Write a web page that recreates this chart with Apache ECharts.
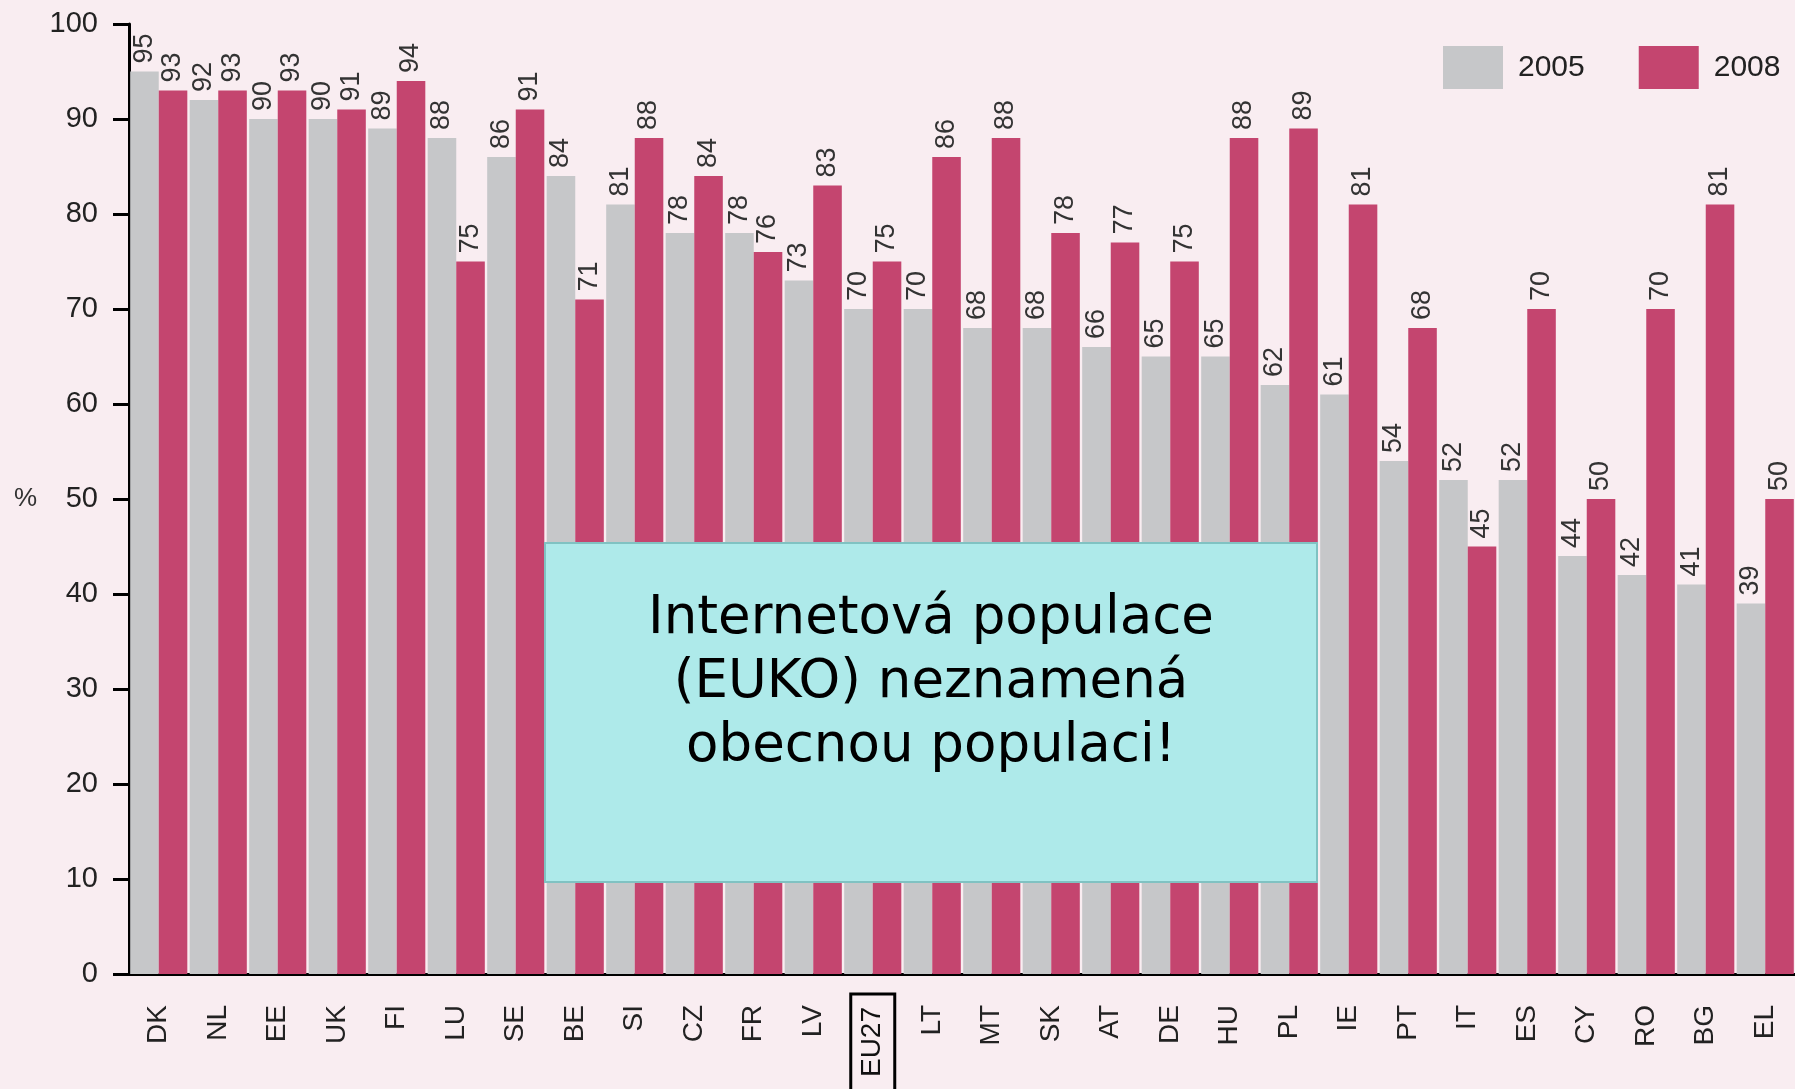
<!DOCTYPE html>
<html>
<head>
<meta charset="utf-8">
<title>Internetová populace</title>
<script src="https://cdn.jsdelivr.net/npm/echarts@6/dist/echarts.min.js"></script>
<style>
	html, body { margin: 0; padding: 0; background: #f9edf1; }
	#chart { width: 1795px; height: 1089px; }
</style>
</head>
<body>
<div id="chart"></div>
<script>
	// data
	var countries = ['DK', 'NL', 'EE', 'UK', 'FI', 'LU', 'SE', 'BE', 'SI', 'CZ', 'FR', 'LV', 'EU27', 'LT',
		'MT', 'SK', 'AT', 'DE', 'HU', 'PL', 'IE', 'PT', 'IT', 'ES', 'CY', 'RO', 'BG', 'EL'];
	var values2005 = [95, 92, 90, 90, 89, 88, 86, 84, 81, 78, 78, 73, 70, 70,
		68, 68, 66, 65, 65, 62, 61, 54, 52, 52, 44, 42, 41, 39];
	var values2008 = [93, 93, 93, 91, 94, 75, 91, 71, 88, 84, 76, 83, 75, 86,
		88, 78, 77, 75, 88, 89, 81, 68, 45, 70, 50, 70, 81, 50];
	var yTicks = [0, 10, 20, 30, 40, 50, 60, 70, 80, 90, 100];

	var myChart = echarts.init(document.getElementById('chart'));

	var valueLabel = {
		show: true,
		position: 'top',
		rotate: 90,
		align: 'left',
		verticalAlign: 'middle',
		distance: 8,
		color: '#333',
		fontFamily: 'Liberation Sans',
		fontSize: 27
	};

	var option = {
		backgroundColor: '#f9edf1',
		animation: false,
		legend: {
			orient: 'horizontal',
			left: 1438,
			top: 41,
			width: 500,
			itemWidth: 60,
			itemHeight: 43,
			itemGap: 54,
			icon: 'rect',
			textStyle: {
				color: '#222',
				fontFamily: 'Liberation Sans',
				fontSize: 30,
				padding: [0, 0, 0, 10]
			},
			data: ['2005', '2008']
		},
		grid: {
			left: 129,
			right: 0,
			top: 24,
			bottom: 115,
			containLabel: false,
			outerBoundsMode: 'none'
		},
		xAxis: {
			type: 'category',
			data: countries,
			axisLine: { lineStyle: { color: '#000', width: 3 } },
			axisTick: { length: 17, lineStyle: { color: '#000', width: 3 } },
			axisLabel: {
				rotate: 90,
				margin: 20,
				interval: 0,
				color: '#222',
				fontFamily: 'Liberation Sans',
				fontSize: 28,
				formatter: function (v) {
					return v === 'EU27' ? '{b|' + v + '}' : '{a|' + v + '}';
				},
				rich: {
					a: { padding: [0, 11, 0, 0], fontFamily: 'Liberation Sans', fontSize: 28, color: '#222' },
					b: {
						fontFamily: 'Liberation Sans', fontSize: 28, color: '#111', lineHeight: 32,
						borderColor: '#000', borderWidth: 3, padding: [8, 13, 8, 30]
					}
				}
			}
		},
		yAxis: {
			type: 'value',
			min: yTicks[0],
			max: yTicks[yTicks.length - 1],
			interval: 10,
			name: '%',
			nameLocation: 'middle',
			nameRotate: 0,
			nameGap: 92,
			nameTextStyle: { color: '#333', fontFamily: 'Liberation Sans', fontSize: 26 },
			splitLine: { show: false },
			axisLine: { show: true, lineStyle: { color: '#000', width: 3 } },
			axisTick: { show: true, length: 16, lineStyle: { color: '#000', width: 3 } },
			axisLabel: {
				margin: 31,
				color: '#222',
				fontFamily: 'Liberation Sans',
				fontSize: 29
			}
		},
		series: [
			{
				name: '2005',
				type: 'bar',
				data: values2005,
				barGap: '0%',
				barCategoryGap: '4%',
				itemStyle: { color: '#c6c7c9' },
				label: valueLabel
			},
			{
				name: '2008',
				type: 'bar',
				data: values2008,
				barGap: '0%',
				barCategoryGap: '4%',
				itemStyle: { color: '#c4456f' },
				label: valueLabel
			}
		],
		// poznamka pres graf
		graphic: [
			{
				type: 'rect',
				z: 100,
				shape: { x: 545, y: 543, width: 772, height: 339 },
				style: { fill: '#aeeaea', stroke: '#80c2c2', lineWidth: 2 }
			},
			{
				type: 'text',
				z: 101,
				x: 931,
				y: 683,
				style: {
					text: 'Internetová populace\n(EUKO) neznamená\nobecnou populaci!',
					font: '53px "DejaVu Sans"',
					lineHeight: 64,
					fill: '#000',
					align: 'center',
					verticalAlign: 'middle'
				}
			}
		]
	};

	myChart.setOption(option);
</script>
</body>
</html>
